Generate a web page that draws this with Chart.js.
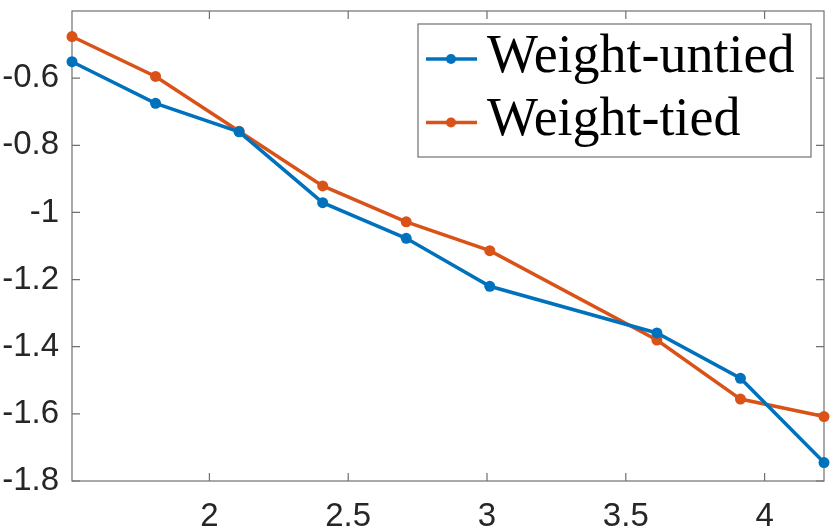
<!DOCTYPE html>
<html>
<head>
<meta charset="utf-8">
<script src="https://cdn.jsdelivr.net/npm/chart.js@4.4.1/dist/chart.umd.min.js"></script>
<style>
  html, body { margin: 0; padding: 0; background: #ffffff; }
  #wrap { width: 830px; height: 528px; }
</style>
</head>
<body>
<div id="wrap"><canvas id="lossChart" width="830" height="528"></canvas></div>
<script>
// values
var xValues = [1.505, 1.806, 2.107, 2.408, 2.709, 3.010, 3.612, 3.913, 4.214];
var untiedValues = [-0.551, -0.675, -0.760, -0.971, -1.077, -1.220, -1.359, -1.494, -1.745];
var tiedValues = [-0.476, -0.595, -0.758, -0.921, -1.028, -1.114, -1.380, -1.556, -1.608];
var seriesNames = ['Weight-untied', 'Weight-tied'];
var seriesColors = ['#0072BD', '#D95319'];

var xTicks = [2, 2.5, 3, 3.5, 4];
var xTickLabels = ['2', '2.5', '3', '3.5', '4'];
var yTicks = [-1.8, -1.6, -1.4, -1.2, -1, -0.8, -0.6];
var yTickLabels = ['-1.8', '-1.6', '-1.4', '-1.2', '-1', '-0.8', '-0.6'];
var xRange = [1.505, 4.214];
var yRange = [-1.8, -0.4];

function toPoints(xs, ys) {
  return xs.map(function (x, i) { return { x: x, y: ys[i] }; });
}

function labelFor(ticks, labels) {
  return function (value) {
    var i = ticks.indexOf(value);
    return i >= 0 ? labels[i] : '';
  };
}

// box around the axes with inward tick marks on all four sides
var boxPlugin = {
  id: 'matlabBox',
  beforeDatasetsDraw: function (chart) {
    var a = chart.chartArea;
    var c = chart.ctx;
    var xs = chart.scales.x;
    var ys = chart.scales.y;
    var len = 8;
    c.save();
    c.strokeStyle = '#707070';
    c.lineWidth = 1.2;
    c.strokeRect(a.left, a.top, a.right - a.left, a.bottom - a.top);
    c.beginPath();
    xTicks.forEach(function (v) {
      var px = xs.getPixelForValue(v);
      c.moveTo(px, a.bottom); c.lineTo(px, a.bottom - len);
      c.moveTo(px, a.top); c.lineTo(px, a.top + len);
    });
    yTicks.forEach(function (v) {
      var py = ys.getPixelForValue(v);
      c.moveTo(a.left, py); c.lineTo(a.left + len, py);
      c.moveTo(a.right, py); c.lineTo(a.right - len, py);
    });
    c.stroke();
    c.restore();
  }
};

// legend drawn inside the plot, top right
var insideLegend = {
  id: 'insideLegend',
  afterDatasetsDraw: function (chart) {
    var a = chart.chartArea;
    var c = chart.ctx;
    var boxW = 393, boxH = 133;
    var bx = a.right - 13 - boxW;
    var by = a.top + 13;
    c.save();
    c.fillStyle = '#ffffff';
    c.fillRect(bx, by, boxW, boxH);
    c.strokeStyle = '#707070';
    c.lineWidth = 1.2;
    c.strokeRect(bx, by, boxW, boxH);
    c.font = '54px "Liberation Serif", "Times New Roman", serif';
    c.textBaseline = 'alphabetic';
    c.textAlign = 'left';
    chart.data.datasets.forEach(function (ds, i) {
      var cy = by + 35 + i * 63.5;
      c.strokeStyle = ds.borderColor;
      c.lineWidth = 3.5;
      c.beginPath();
      c.moveTo(bx + 8, cy);
      c.lineTo(bx + 59, cy);
      c.stroke();
      c.fillStyle = ds.borderColor;
      c.beginPath();
      c.arc(bx + 33, cy, 5, 0, Math.PI * 2);
      c.fill();
      c.fillStyle = '#000000';
      c.fillText(ds.label, bx + 69, cy + 12.5);
    });
    c.restore();
  }
};

var tickFont = { family: '"Liberation Sans", Arial, Helvetica, sans-serif', size: 33 };

new Chart(document.getElementById('lossChart'), {
  type: 'line',
  data: {
    datasets: [
      {
        label: seriesNames[0],
        data: toPoints(xValues, untiedValues),
        borderColor: seriesColors[0],
        backgroundColor: seriesColors[0],
        borderWidth: 3.5,
        pointRadius: 5.5,
        pointBorderWidth: 0,
        pointBackgroundColor: seriesColors[0],
        tension: 0,
        clip: false
      },
      {
        label: seriesNames[1],
        data: toPoints(xValues, tiedValues),
        borderColor: seriesColors[1],
        backgroundColor: seriesColors[1],
        borderWidth: 3.5,
        pointRadius: 5.5,
        pointBorderWidth: 0,
        pointBackgroundColor: seriesColors[1],
        tension: 0,
        clip: false
      }
    ]
  },
  options: {
    responsive: false,
    animation: false,
    devicePixelRatio: 1,
    layout: { padding: { top: 11, right: 6, left: 0, bottom: 0 } },
    plugins: {
      legend: { display: false },
      tooltip: { enabled: false }
    },
    scales: {
      x: {
        type: 'linear',
        min: xRange[0],
        max: xRange[1],
        grid: { display: false, drawTicks: false },
        border: { display: false },
        afterBuildTicks: function (scale) {
          scale.ticks = xTicks.map(function (v) { return { value: v }; });
        },
        afterFit: function (scale) {
          scale.height = 47;
          scale.paddingLeft = 0;
          scale.paddingRight = 0;
        },
        ticks: {
          autoSkip: false,
          maxRotation: 0,
          padding: 16,
          color: '#262626',
          font: tickFont,
          callback: labelFor(xTicks, xTickLabels)
        }
      },
      y: {
        type: 'linear',
        min: yRange[0],
        max: yRange[1],
        grid: { display: false, drawTicks: false },
        border: { display: false },
        afterBuildTicks: function (scale) {
          scale.ticks = yTicks.map(function (v) { return { value: v }; });
        },
        afterFit: function (scale) {
          scale.width = 72;
          scale.paddingTop = 0;
          scale.paddingBottom = 0;
        },
        ticks: {
          autoSkip: false,
          padding: 13,
          color: '#262626',
          font: tickFont,
          callback: labelFor(yTicks, yTickLabels)
        }
      }
    }
  },
  plugins: [boxPlugin, insideLegend]
});
</script>
</body>
</html>
